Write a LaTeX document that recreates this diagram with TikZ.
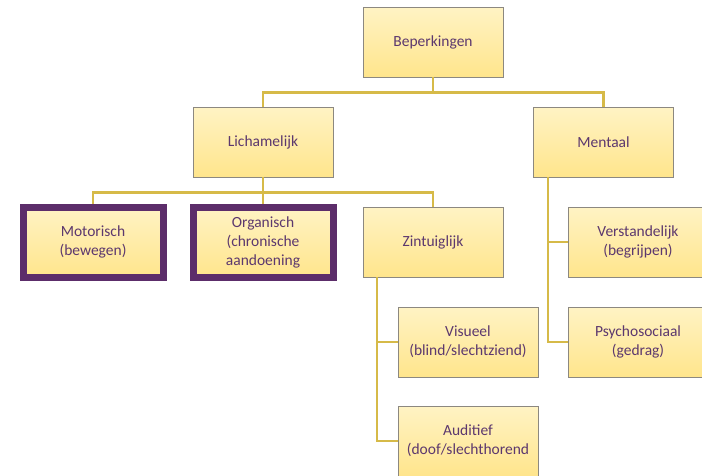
\documentclass[tikz,border=0pt]{standalone}
\usepackage{fontspec}
\setmainfont{Carlito}
\definecolor{boxtop}{RGB}{255,243,196}
\definecolor{boxbot}{RGB}{255,229,140}
\definecolor{boxline}{RGB}{140,136,128}
\definecolor{txtpurple}{RGB}{92,56,110}
\definecolor{framepurple}{RGB}{92,45,106}
\definecolor{gold}{RGB}{214,186,72}
\begin{document}
\begin{tikzpicture}[x=1pt,y=-1pt,
  box/.style={draw=boxline, line width=0.9pt, top color=boxtop, bottom color=boxbot,
    minimum width=140pt, minimum height=70pt, inner sep=0pt, align=center,
    text=txtpurple, font=\fontsize{15.5}{19}\selectfont},
  boldbox/.style={box, draw=framepurple, line width=7pt},
  conn/.style={draw=gold, line width=2.5pt}]
\useasboundingbox (0,0) rectangle (702,475);

\node[box] (beperk) at (433,42) {Beperkingen};
\node[box] (licham) at (263,142) {Lichamelijk};
\node[box] (mentaal) at (603.5,142) {Mentaal};

\node[boldbox] (motor) at (93,242) {Motorisch\\(bewegen)};
\node[boldbox] (organ) at (263,242) {Organisch\\(chronische\\aandoening};
\node[box] (zintuig) at (433,242) {Zintuiglijk};

\node[box] (visueel) at (468,342) {Visueel\\(blind/slechtziend)};
\node[box] (auditief) at (468,441) {Auditief\\(doof/slechthorend};

\node[box] (verstand) at (638,242) {Verstandelijk\\(begrijpen)};
\node[box] (psycho) at (638,342) {Psychosociaal\\(gedrag)};

% takken
\draw[conn] (beperk.south) -- ++(0,15) -| (licham.north);
\draw[conn] (beperk.south) -- ++(0,15) -| (mentaal.north);
\draw[conn] (licham.south) -- ++(0,15) -| (motor.north);
\draw[conn] (licham.south) -- (organ.north);
\draw[conn] (licham.south) -- ++(0,15) -| (zintuig.north);

\draw[conn] ([xshift=-56pt]zintuig.south) |- (visueel.west);
\draw[conn] ([xshift=-56pt]zintuig.south) |- (auditief.west);
\draw[conn] ([xshift=-55.5pt]mentaal.south) |- (verstand.west);
\draw[conn] ([xshift=-55.5pt]mentaal.south) |- (psycho.west);
\end{tikzpicture}
\end{document}
